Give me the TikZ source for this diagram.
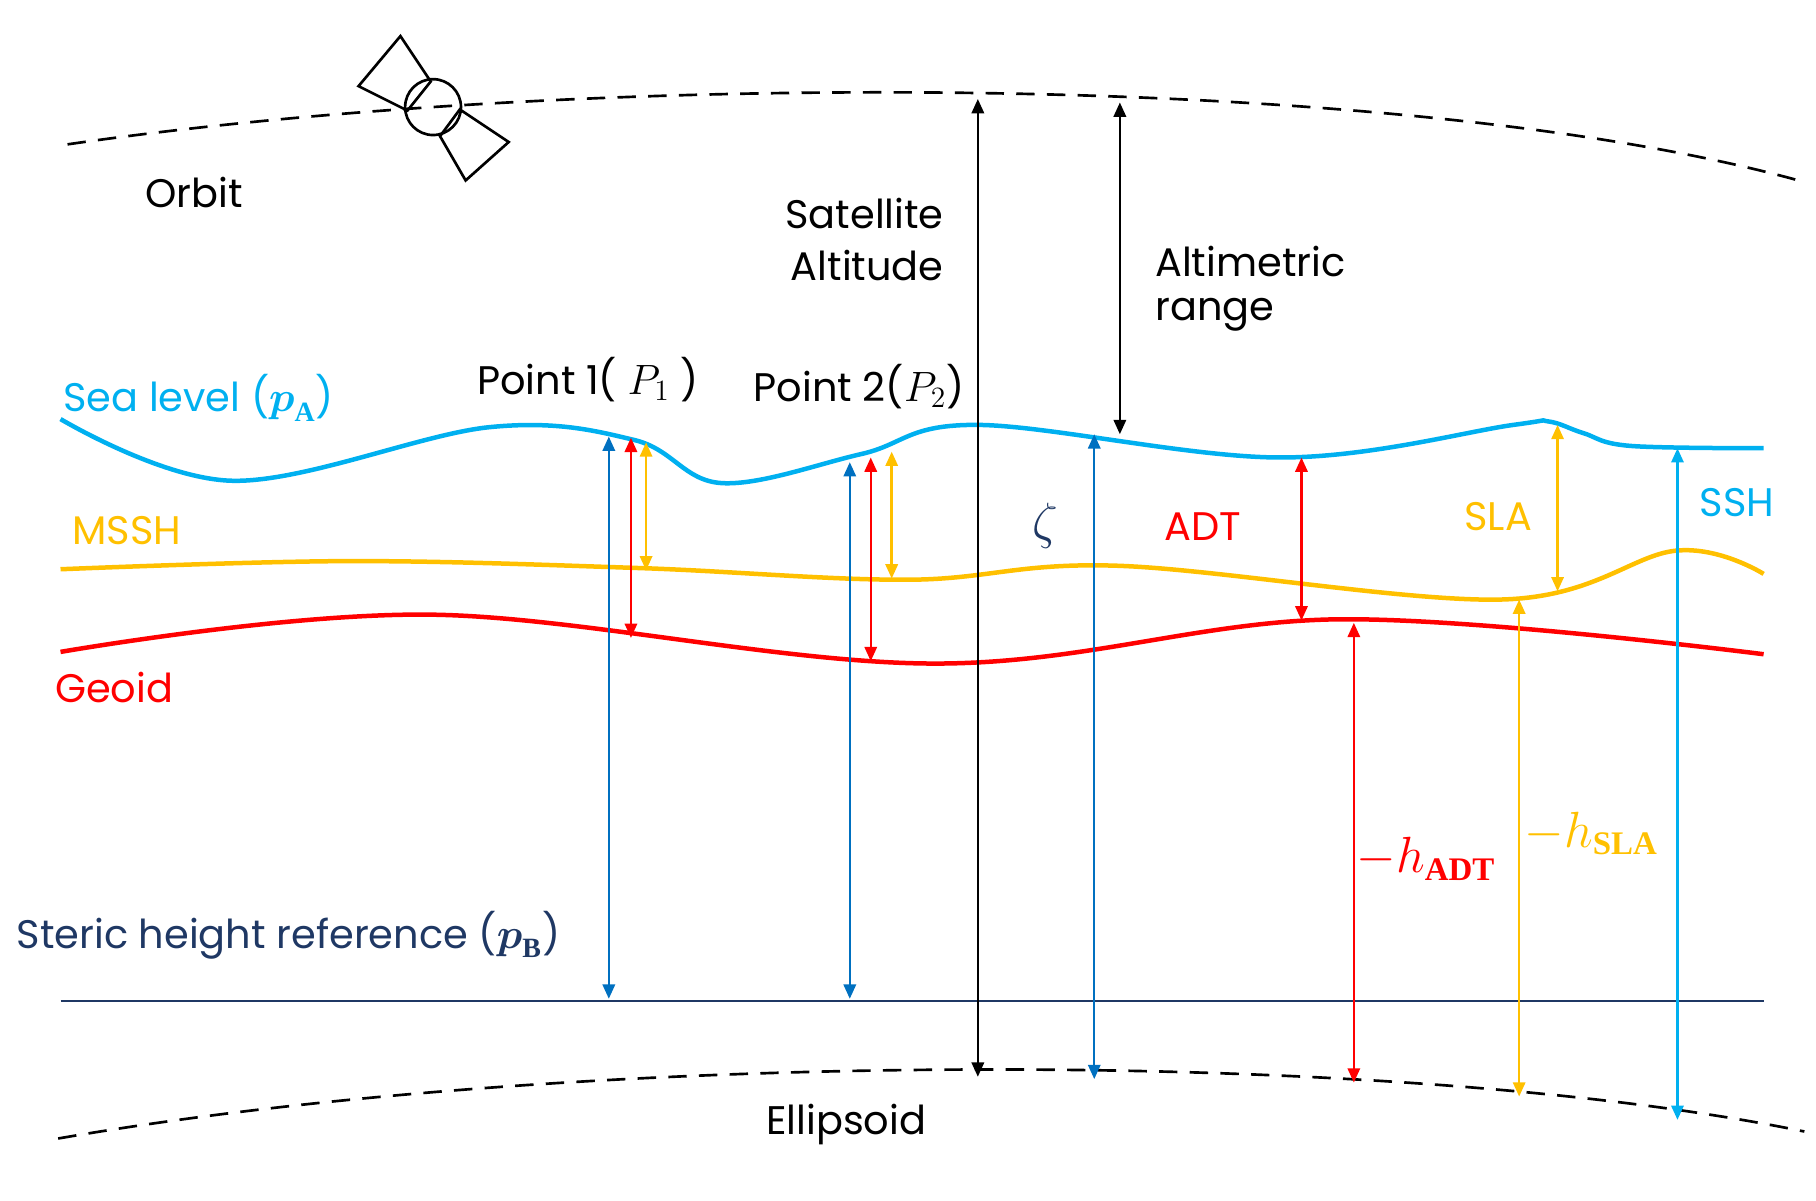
\documentclass[tikz,border=0pt]{standalone}
\usepackage{amsmath}
\usepackage{fontspec}
\setmainfont{Poppins}
\newfontfamily\srf{Liberation Serif}
\usetikzlibrary{arrows.meta}
\definecolor{cy}{RGB}{0,176,240}
\definecolor{ye}{RGB}{255,192,0}
\definecolor{rd}{RGB}{255,0,0}
\definecolor{bl}{RGB}{0,112,192}
\definecolor{nv}{RGB}{31,56,100}
\newcommand{\srfb}[1]{\text{\srf\bfseries #1}}
\tikzset{lbl/.style={inner sep=0pt,font=\fontsize{19.5}{23}\selectfont},
 dim/.style={line width=1.2pt,{Triangle[length=7pt,width=6pt]}-{Triangle[length=7pt,width=6pt]}},
 curve/.style={line width=2.2pt},
 dsh/.style={line width=1.3pt,dash pattern=on 9pt off 6pt}}
\begin{document}
\begin{tikzpicture}[x=0.02cm,y=-0.02cm]
\useasboundingbox (0,0) rectangle (1560,1031);
% orbit & ellipsoid
\draw[dsh] (58,124) .. controls (500,60) and (1200,60) .. (1545,155);
\draw[dsh] (50,978) .. controls (500,900) and (1200,900) .. (1550,972);
% satellite
\draw[line width=1.3pt] (372,92) circle (24);
\draw[line width=1.3pt] (308,74) -- (344,31) -- (370,70) -- (350,95) -- cycle;
\draw[line width=1.3pt] (395,94) -- (437,122) -- (400,155) -- (378,117) -- cycle;
% surfaces
\draw[curve,cy] plot[smooth,tension=0.6] coordinates {(52,360) (200,413) (420,367) (545,378) (620,415) (740,390) (840,365) (1100,393) (1300,365) (1330,362) (1360,372) (1400,383) (1515,385)};
\draw[curve,ye] plot[smooth,tension=0.6] coordinates {(52,489) (300,482) (550,488) (780,498) (960,486) (1290,515) (1440,473) (1515,493)};
\draw[curve,rd] plot[smooth,tension=0.6] coordinates {(52,560) (370,528) (800,570) (1150,532) (1515,562)};
\draw[line width=1.3pt,nv] (52,860) -- (1515,860);
% arrows
\coordinate (b1a) at (523,375); \coordinate (b1b) at (523,858);
\draw[dim,bl] (b1a) -- (b1b);
\coordinate (b2a) at (730,397); \coordinate (b2b) at (730,858);
\draw[dim,bl] (b2a) -- (b2b);
\coordinate (r1a) at (542,376); \coordinate (r1b) at (542,548);
\draw[dim,rd] (r1a) -- (r1b);
\coordinate (r2a) at (748,393); \coordinate (r2b) at (748,568);
\draw[dim,rd] (r2a) -- (r2b);
\coordinate (y1a) at (555,380); \coordinate (y1b) at (555,490);
\draw[dim,ye] (y1a) -- (y1b);
\coordinate (y2a) at (766,388); \coordinate (y2b) at (766,497);
\draw[dim,ye] (y2a) -- (y2b);
\coordinate (k1a) at (840,85); \coordinate (k1b) at (840,925);
\draw[dim] (k1a) -- (k1b);
\coordinate (k2a) at (962,88); \coordinate (k2b) at (962,373);
\draw[dim] (k2a) -- (k2b);
\coordinate (b3a) at (940,373); \coordinate (b3b) at (940,927);
\draw[dim,bl] (b3a) -- (b3b);
\coordinate (r3a) at (1118,393); \coordinate (r3b) at (1118,533);
\draw[dim,rd] (r3a) -- (r3b);
\coordinate (y3a) at (1338,365); \coordinate (y3b) at (1338,508);
\draw[dim,ye] (y3a) -- (y3b);
\coordinate (r4a) at (1163,535); \coordinate (r4b) at (1163,930);
\draw[dim,rd] (r4a) -- (r4b);
\coordinate (y4a) at (1305,515); \coordinate (y4b) at (1305,942);
\draw[dim,ye] (y4a) -- (y4b);
\coordinate (c1a) at (1441,385); \coordinate (c1b) at (1441,962);
\draw[dim,cy] (c1a) -- (c1b);
% labels
\node[lbl] (orbit) at (167,165) {Orbit};
\node[lbl,anchor=east] (sat1) at (811,183) {Satellite};
\node[lbl,anchor=east] (sat2) at (811,228) {Altitude};
\node[lbl,anchor=west] (alt1) at (992,225) {Altimetric};
\node[lbl,anchor=west] (alt2) at (992,270) {range};
\node[lbl,anchor=west,cy] (sea) at (54,342) {Sea level ($\boldsymbol{p}_{\srfb{A}}$)};
\node[lbl] (p1) at (505,326) {Point 1( $P_1$ )};
\node[lbl] (p2) at (738,332) {Point 2($P_2$)};
\node[lbl,anchor=west,ye] (mssh) at (62,456) {MSSH};
\node[lbl,nv,font=\fontsize{26}{28}\selectfont] (zeta) at (898,452) {$\zeta$};
\node[lbl,rd] (adt) at (1033,452) {ADT};
\node[lbl,ye] (sla) at (1287,444) {SLA};
\node[lbl,cy] (ssh) at (1492,432) {SSH};
\node[lbl,rd] (geoid) at (98,591) {Geoid};
\node[lbl,rd,font=\fontsize{23}{26}\selectfont] (hadt) at (1225,738) {$-h_{\srfb{ADT}}$};
\node[lbl,ye,font=\fontsize{23}{26}\selectfont] (hsla) at (1367,716) {$-h_{\srfb{SLA}}$};
\node[lbl,nv,anchor=west] (steric) at (14,803) {Steric height reference ($\boldsymbol{p}_{\srfb{B}}$)};
\node[lbl] (ell) at (727,966) {Ellipsoid};
\end{tikzpicture}
\end{document}
